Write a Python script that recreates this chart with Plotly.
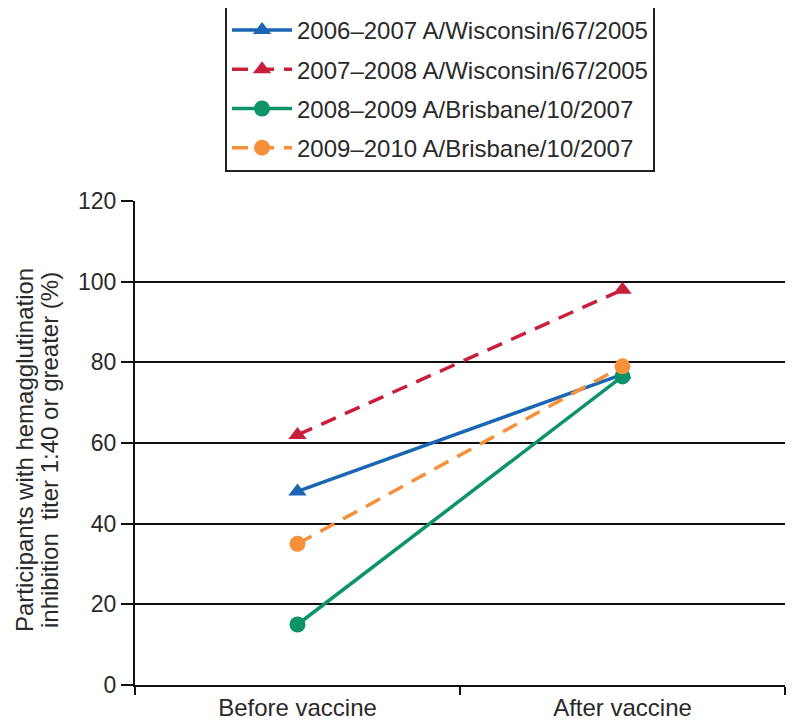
import plotly.graph_objects as go

categories = ["Before vaccine", "After vaccine"]
series_names = [
    "2006–2007 A/Wisconsin/67/2005",
    "2007–2008 A/Wisconsin/67/2005",
    "2008–2009 A/Brisbane/10/2007",
    "2009–2010 A/Brisbane/10/2007",
]
values_0607 = [48, 77]
values_0708 = [62, 98]
values_0809 = [15, 76.5]
values_0910 = [35, 79]
y_ticks = [0, 20, 40, 60, 80, 100, 120]
y_title_lines = [
    "Participants with hemagglutination",
    "inhibition  titer 1:40 or greater (%)",
]

colors = ["#1a66b3", "#c8203c", "#0c936a", "#f7903a"]
dashes = ["solid", "16px,10px", "solid", "16px,10px"]
symbols = ["triangle-up", "triangle-up", "circle", "circle"]
all_values = [values_0607, values_0708, values_0809, values_0910]

font_family = "Liberation Sans, Arial, Helvetica, sans-serif"
text_color = "#2a2a2a"

# page offset of the plot div (browser default body margin)
OFF = 8
W, H = 800 - OFF, 727 - OFF
PL, PR, PT, PB = 135, 785, 201, 685  # plot area in page pixels
ml, mr, mt = PL - OFF, W - (PR - OFF), PT - OFF
mb = H - (PB - OFF)
pw, ph = PR - PL, PB - PT

fig = go.Figure()
for i, (name, vals) in enumerate(zip(series_names, all_values)):
    fig.add_trace(go.Scatter(
        x=categories, y=vals, name=name, mode="lines+markers",
        line=dict(color=colors[i], width=3.5, dash=dashes[i]),
        marker=dict(symbol=symbols[i], size=16, color=colors[i]),
        legendgroup=f"g{i}",
    ))

# y-axis title as two rotated lines
for xpix, line in zip([24, 49], y_title_lines):
    fig.add_annotation(
        text=line, textangle=-90, showarrow=False,
        xref="paper", yref="paper",
        x=(xpix - PL) / pw, y=(PB - 450) / ph,
        xanchor="center", yanchor="middle",
        font=dict(size=24, color=text_color, family=font_family),
    )

fig.update_layout(
    width=W, height=H,
    margin=dict(l=ml, r=mr, t=mt, b=mb, autoexpand=False),
    paper_bgcolor="white", plot_bgcolor="white",
    font=dict(family=font_family, size=23, color=text_color),
    showlegend=True,
    legend=dict(
        x=(227 - 2 - PL) / pw, y=(PB - 6) / ph, xanchor="left", yanchor="top",
        bordercolor="#222", borderwidth=2, bgcolor="white",
        font=dict(size=24, color=text_color),
        tracegroupgap=5, itemwidth=60,
    ),
    xaxis=dict(
        type="category", range=[-0.5, 1.5], tickson="boundaries",
        ticks="outside", ticklen=8, tickwidth=2, tickcolor="#111",
        showline=True, linecolor="#111", linewidth=2,
        showgrid=False, zeroline=False,
        tickfont=dict(size=24),
    ),
    yaxis=dict(
        range=[0, 120], tickvals=y_ticks,
        ticks="outside", ticklen=12, tickwidth=2, tickcolor="#111",
        showline=True, linecolor="#111", linewidth=2,
        showgrid=True, gridcolor="#111", gridwidth=2,
        zeroline=False,
        tickfont=dict(size=23),
    ),
)

fig.write_html("out.html")
